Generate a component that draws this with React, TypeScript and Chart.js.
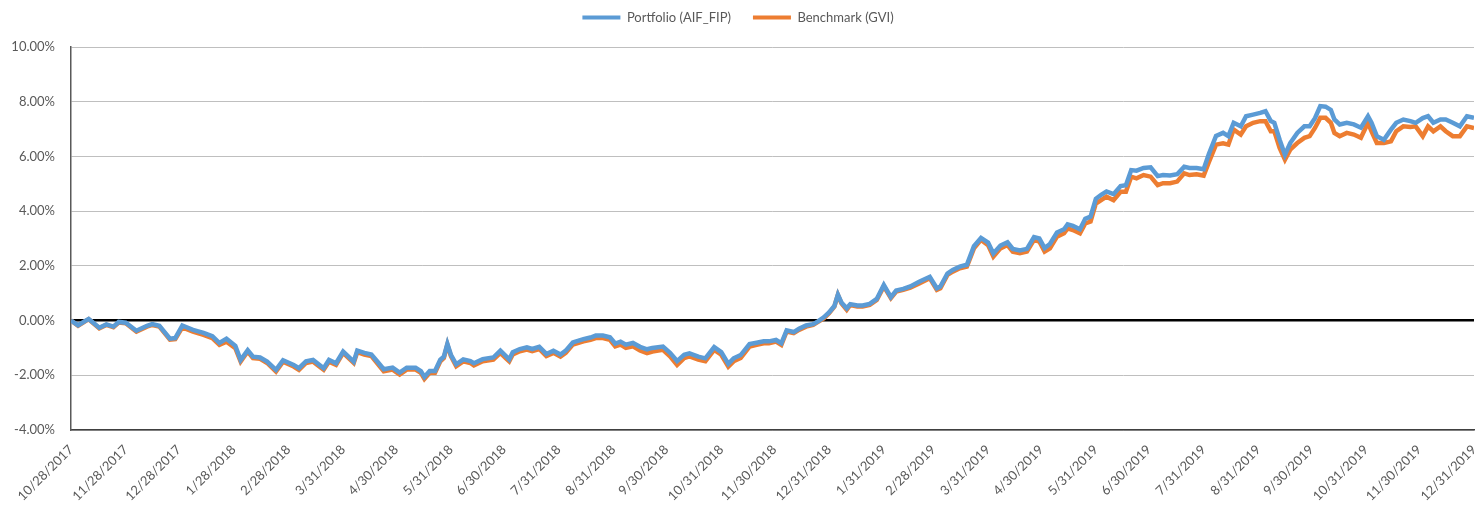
import React, { useEffect, useRef } from "react";
import { Chart, registerables } from "chart.js";

Chart.register(...registerables);

// Cumulative return (%) of the fund and its benchmark, sampled by day offset from 10/28/2017
const tickLabels = [
  "10/28/2017", "11/28/2017", "12/28/2017", "1/28/2018", "2/28/2018", "3/31/2018",
  "4/30/2018", "5/31/2018", "6/30/2018", "7/31/2018", "8/31/2018", "9/30/2018",
  "10/31/2018", "11/30/2018", "12/31/2018", "1/31/2019", "2/28/2019", "3/31/2019",
  "4/30/2019", "5/31/2019", "6/30/2019", "7/31/2019", "8/31/2019", "9/30/2019",
  "10/31/2019", "11/30/2019", "12/31/2019",
];

const days = [
  0, 4, 10, 16, 20, 24, 27, 31, 37, 43, 46, 50, 56, 59, 63, 69, 75, 80, 84, 88,
  93, 96, 100, 103, 107, 111, 116, 120, 126, 129, 133, 137, 143, 146, 150, 154, 160,
  162, 166, 170, 173, 177, 182, 186, 190, 195, 198, 200, 203, 206, 209, 211, 213, 215, 218, 222, 226,
  228, 233, 239, 243, 246, 248, 250, 254, 258, 261, 265, 269, 273, 277, 280, 284, 290, 294, 297, 301,
  305, 308, 311, 314, 318, 322,
  326, 329, 335, 339, 343, 347, 350, 355, 359, 364, 368, 372, 375, 379, 384, 388, 392, 395, 399, 402,
  405, 409, 412, 416, 420, 423, 426, 429, 432, 434, 436, 439, 441, 445, 448, 452, 456, 460, 464, 467,
  471, 475,
  480, 486, 490, 492, 496, 499, 503, 507, 511, 515, 519, 522, 526, 530, 533, 537, 541, 545, 548, 551,
  554, 558, 562, 564, 567, 571, 574, 577, 580, 583, 586, 590, 594, 597, 600, 603, 607, 611, 615, 618,
  622, 626, 630, 633, 637, 641,
  644, 648, 652, 655, 658, 662, 665, 669, 673, 676, 679, 681, 684, 687, 690, 694, 698, 701, 704, 707,
  710, 713, 715, 718, 722, 726, 730, 734, 736, 739, 743, 747, 750, 754, 758, 761, 765, 768, 771, 775,
  778, 782, 786, 790, 794,
];

const portfolio = [
  0.0, -0.17, 0.06, -0.26, -0.14, -0.22, -0.05, -0.08, -0.37, -0.19,
  -0.13, -0.19, -0.66, -0.64, -0.18, -0.34, -0.45, -0.57, -0.82, -0.66,
  -0.92, -1.44, -1.08, -1.32, -1.35, -1.5, -1.8, -1.45, -1.62, -1.74,
  -1.49, -1.44, -1.74, -1.44, -1.56, -1.13, -1.5,
  -1.1, -1.18, -1.24, -1.47, -1.78, -1.72, -1.9, -1.72, -1.72, -1.85,
  -2.06, -1.84, -1.84, -1.43, -1.32, -0.85, -1.25, -1.6, -1.42, -1.48,
  -1.56, -1.41, -1.35, -1.1, -1.29, -1.42, -1.16, -1.04, -0.98, -1.04,
  -0.96, -1.22, -1.1, -1.24, -1.1, -0.8, -0.68, -0.62, -0.55, -0.55,
  -0.61, -0.84, -0.77, -0.88, -0.82, -0.96,
  -1.05, -1.0, -0.95, -1.18, -1.48, -1.25, -1.2, -1.32, -1.38, -0.97,
  -1.15, -1.58, -1.38, -1.26, -0.86, -0.81, -0.76, -0.76, -0.71, -0.83,
  -0.36, -0.42, -0.3, -0.18, -0.13, -0.02, 0.12, 0.3, 0.53, 0.95,
  0.66, 0.45, 0.6, 0.55, 0.55, 0.61, 0.79, 1.3, 0.86, 1.1,
  1.16, 1.25,
  1.42, 1.6, 1.18, 1.24, 1.72, 1.85, 1.97, 2.04, 2.72, 3.02,
  2.85, 2.45, 2.74, 2.86, 2.62, 2.56, 2.62, 3.05, 3.0, 2.65,
  2.8, 3.22, 3.34, 3.52, 3.46, 3.34, 3.72, 3.8, 4.45, 4.6,
  4.72, 4.62, 4.92, 4.95, 5.5, 5.48, 5.58, 5.6, 5.28, 5.32,
  5.3, 5.35, 5.62, 5.58, 5.58, 5.53,
  6.1, 6.75, 6.86, 6.74, 7.23, 7.1, 7.47, 7.53, 7.59, 7.65,
  7.29, 7.23, 6.61, 6.06, 6.49, 6.86, 7.1, 7.1, 7.4, 7.84,
  7.82, 7.7, 7.35, 7.17, 7.23, 7.17, 7.05, 7.47, 7.23, 6.74,
  6.61, 6.98, 7.23, 7.35, 7.29, 7.23, 7.4, 7.47, 7.23, 7.35,
  7.35, 7.23, 7.1, 7.47, 7.41,
];

const benchmark = [
  0.0, -0.19, 0.05, -0.28, -0.16, -0.24, -0.07, -0.1, -0.4, -0.22,
  -0.16, -0.22, -0.7, -0.68, -0.25, -0.4, -0.52, -0.64, -0.89, -0.77,
  -1.01, -1.5, -1.13, -1.37, -1.4, -1.55, -1.86, -1.5, -1.68, -1.8,
  -1.55, -1.5, -1.8, -1.5, -1.62, -1.18, -1.55,
  -1.15, -1.24, -1.3, -1.54, -1.85, -1.79, -1.97, -1.79, -1.79, -1.91,
  -2.13, -1.91, -1.91, -1.49, -1.37, -0.88, -1.3, -1.67, -1.49, -1.55,
  -1.64, -1.49, -1.43, -1.18, -1.37, -1.49, -1.24, -1.12, -1.06, -1.12,
  -1.04, -1.3, -1.18, -1.32, -1.18, -0.88, -0.76, -0.7, -0.64, -0.64,
  -0.7, -0.94, -0.88, -1.0, -0.94, -1.09,
  -1.19, -1.13, -1.07, -1.31, -1.62, -1.37, -1.31, -1.43, -1.49, -1.07,
  -1.25, -1.68, -1.49, -1.37, -0.95, -0.89, -0.83, -0.83, -0.77, -0.89,
  -0.4, -0.46, -0.34, -0.22, -0.16, -0.04, 0.08, 0.27, 0.51, 0.94,
  0.63, 0.39, 0.57, 0.51, 0.51, 0.57, 0.75, 1.25, 0.82, 1.06,
  1.12, 1.2,
  1.36, 1.55, 1.12, 1.18, 1.67, 1.79, 1.91, 1.97, 2.64, 2.95,
  2.76, 2.34, 2.64, 2.76, 2.52, 2.46, 2.52, 2.95, 2.89, 2.52,
  2.64, 3.07, 3.19, 3.37, 3.31, 3.19, 3.55, 3.62, 4.28, 4.4,
  4.53, 4.4, 4.71, 4.71, 5.26, 5.2, 5.32, 5.26, 4.95, 5.02,
  5.02, 5.08, 5.38, 5.32, 5.35, 5.3,
  5.8, 6.43, 6.48, 6.43, 6.98, 6.8, 7.1, 7.23, 7.29, 7.29,
  6.92, 6.92, 6.31, 5.88, 6.25, 6.49, 6.68, 6.74, 7.04, 7.41,
  7.41, 7.23, 6.86, 6.74, 6.86, 6.8, 6.68, 7.23, 6.92, 6.49,
  6.49, 6.55, 6.92, 7.1, 7.08, 7.1, 6.74, 7.1, 6.92, 7.1,
  6.92, 6.74, 6.74, 7.1, 7.04,
];

const seriesNames = ["Portfolio (AIF_FIP)", "Benchmark (GVI)"];
const seriesColors = ["#5B9BD5", "#ED7D31"];

const START = Date.UTC(2017, 9, 28);
const DAY_MS = 86400000;
const dayOf = (label: string) => {
  const [m, d, y] = label.split("/").map(Number);
  return Math.round((Date.UTC(y, m - 1, d) - START) / DAY_MS);
};
const tickDays = tickLabels.map(dayOf);

const FONT = "Lato, 'Open Sans', sans-serif";
const TEXT = "#595959";

// Reserve a fixed band above the plot for the legend and keep its row near the top
const legendBand = {
  id: "legendBand",
  afterInit(chart: any) {
    const legend = chart.legend;
    if (!legend) return;
    const fit = legend.fit;
    legend.fit = function () {
      fit.call(this);
      this.height = 47;
    };
    const draw = legend.draw;
    legend.draw = function () {
      const ctx = this.ctx;
      ctx.save();
      ctx.translate(0, -11);
      draw.call(this);
      ctx.restore();
    };
  },
};

export default function App() {
  const canvasRef = useRef<HTMLCanvasElement | null>(null);

  useEffect(() => {
    if (!canvasRef.current) return;
    const toPoints = (vals: number[]) => days.map((d, i) => ({ x: d, y: vals[i] }));
    const chart = new Chart(canvasRef.current, {
      type: "line",
      data: {
        datasets: [portfolio, benchmark].map((vals, i) => ({
          label: seriesNames[i],
          data: toPoints(vals),
          borderColor: seriesColors[i],
          backgroundColor: seriesColors[i],
          borderWidth: 4.5,
          pointRadius: 0,
          tension: 0,
          fill: false,
        })),
      },
      options: {
        animation: false,
        responsive: true,
        maintainAspectRatio: false,
        layout: { padding: 0 },
        plugins: {
          tooltip: { enabled: false },
          legend: {
            position: "top",
            labels: {
              boxWidth: 38,
              boxHeight: 4,
              padding: 22,
              color: TEXT,
              font: { family: FONT, size: 13 },
              generateLabels: (c: any) =>
                (Chart.defaults.plugins.legend.labels as any)
                  .generateLabels(c)
                  .map((item: any) => ({ ...item, lineWidth: 0 })),
            },
          },
        },
        scales: {
          x: {
            type: "linear",
            min: 0,
            max: tickDays[tickDays.length - 1],
            afterBuildTicks: (scale: any) => {
              scale.ticks = tickDays.map((v) => ({ value: v }));
            },
            afterFit: (scale: any) => {
              scale.height = 76;
              scale.paddingRight = 2;
            },
            grid: { display: false },
            border: { display: true, color: "#404040", width: 1.5 },
            ticks: {
              autoSkip: false,
              minRotation: 45,
              maxRotation: 45,
              padding: 4,
              color: TEXT,
              font: { family: FONT, size: 13 },
              callback: (_v: any, i: number) => tickLabels[i],
            },
          },
          y: {
            min: -4,
            max: 10,
            afterFit: (scale: any) => {
              scale.width = 71;
            },
            grid: {
              drawTicks: false,
              color: (ctx: any) => (ctx.tick && ctx.tick.value === 0 ? "#000000" : "#bfbfbf"),
              lineWidth: (ctx: any) => (ctx.tick && ctx.tick.value === 0 ? 2.5 : 1),
            },
            border: { display: true, color: "#595959", width: 1.5 },
            ticks: {
              stepSize: 2,
              padding: 16,
              color: TEXT,
              font: { family: FONT, size: 13 },
              callback: (v: any) => Number(v).toFixed(2) + "%",
            },
          },
        },
      },
      plugins: [legendBand],
    } as any);
    return () => chart.destroy();
  }, []);

  return (
    <div style={{ position: "absolute", left: 0, top: 0, width: 1476, height: 506, background: "#ffffff" }}>
      <canvas ref={canvasRef} />
    </div>
  );
}
